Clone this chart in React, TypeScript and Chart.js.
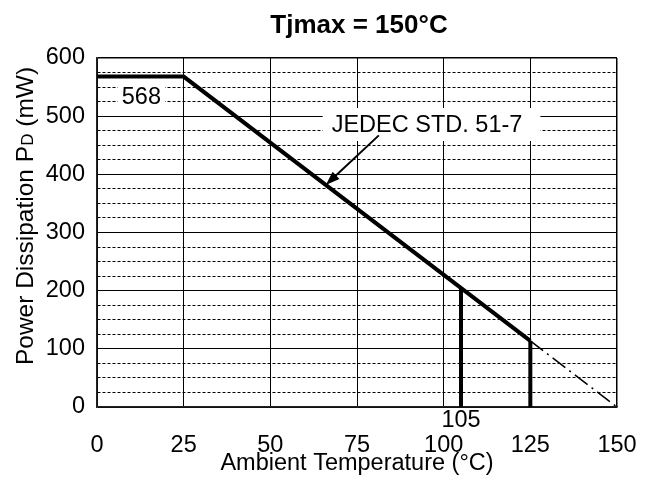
import React, { useEffect, useRef } from 'react';
import { Chart, registerables } from 'chart.js';

Chart.register(...registerables);

// ---------- text ----------
const TITLE = 'Tjmax = 150°C';
const X_TITLE = 'Ambient Temperature (°C)';
const Y_TITLE_MAIN = 'Power Dissipation P';
const Y_TITLE_SUB = 'D';
const Y_TITLE_UNIT = ' (mW)';
const PLATEAU_LABEL = '568';
const JEDEC_LABEL = 'JEDEC STD. 51-7';
const MARK_LABEL = '105';

// ---------- data ----------
const deratingX = [0, 25, 125];
const deratingY = [568, 568, 113.6];
const extensionX = [125, 150];
const extensionY = [113.6, 0];
const bar105X = [105, 105];
const bar105Y = [0, 204.5];
const bar125X = [125, 125];
const bar125Y = [0, 113.6];

// axis ranges / ticks
const X_MIN = 0;
const X_MAX = 150;
const X_STEP = 25;
const Y_MIN = 0;
const Y_MAX = 600;
const Y_MAJOR = 100;
const Y_MINOR = 25;

// annotation anchors (data coordinates)
const PLATEAU_AT = { x: 12.8, y: 534.5 };
const JEDEC_AT = { x: 95.2, y: 486.5 };
const ARROW_FROM = { x: 81.3, y: 467 };
const ARROW_TO = { x: 66, y: 381.7 };
const MARK_AT = 105;

const FAMILY = '"Liberation Sans", Arial, Helvetica, sans-serif';
const font = (size: number, bold = false) => `${bold ? 'bold ' : ''}${size}px ${FAMILY}`;

const zip = (xs: number[], ys: number[]) => xs.map((x, i) => ({ x, y: ys[i] }));

const overlayPlugin = {
  id: 'overlay',
  beforeDatasetsDraw(chart: any) {
    const { ctx, scales } = chart;
    const xs = scales.x;
    const ys = scales.y;
    ctx.save();
    ctx.font = font(23.5);
    ctx.textBaseline = 'middle';
    ctx.textAlign = 'center';
    {
      const px = xs.getPixelForValue(PLATEAU_AT.x);
      const py = ys.getPixelForValue(PLATEAU_AT.y);
      const w = ctx.measureText(PLATEAU_LABEL).width;
      ctx.fillStyle = '#fff';
      ctx.fillRect(px - w / 2 - 4, py - 15, w + 8, 29);
      ctx.fillStyle = '#000';
      ctx.fillText(PLATEAU_LABEL, px, py + 1);
    }
    {
      const px = xs.getPixelForValue(JEDEC_AT.x);
      const py = ys.getPixelForValue(JEDEC_AT.y);
      const w = ctx.measureText(JEDEC_LABEL).width;
      ctx.fillStyle = '#fff';
      ctx.fillRect(px - w / 2 - 9, py - 16, w + 27, 33);
      ctx.fillStyle = '#000';
      ctx.fillText(JEDEC_LABEL, px, py + 1);
    }
    ctx.restore();
  },
  afterDatasetsDraw(chart: any) {
    const { ctx, scales } = chart;
    const xs = scales.x;
    const ys = scales.y;
    const x1 = xs.getPixelForValue(ARROW_FROM.x);
    const y1 = ys.getPixelForValue(ARROW_FROM.y);
    const x2 = xs.getPixelForValue(ARROW_TO.x);
    const y2 = ys.getPixelForValue(ARROW_TO.y);
    const ang = Math.atan2(y2 - y1, x2 - x1);
    const head = 14;
    const half = 5;
    ctx.save();
    ctx.strokeStyle = '#000';
    ctx.fillStyle = '#000';
    ctx.lineWidth = 2;
    ctx.beginPath();
    ctx.moveTo(x1, y1);
    ctx.lineTo(x2 - Math.cos(ang) * (head - 2), y2 - Math.sin(ang) * (head - 2));
    ctx.stroke();
    ctx.beginPath();
    ctx.moveTo(x2, y2);
    ctx.lineTo(
      x2 - Math.cos(ang) * head + Math.sin(ang) * half,
      y2 - Math.sin(ang) * head - Math.cos(ang) * half
    );
    ctx.lineTo(
      x2 - Math.cos(ang) * head - Math.sin(ang) * half,
      y2 - Math.sin(ang) * head + Math.cos(ang) * half
    );
    ctx.closePath();
    ctx.fill();
    ctx.restore();
  },
  afterDraw(chart: any) {
    const { ctx, chartArea, scales } = chart;
    const xs = scales.x;
    ctx.save();
    ctx.fillStyle = '#000';
    ctx.font = font(26, true);
    ctx.textAlign = 'center';
    ctx.textBaseline = 'alphabetic';
    ctx.fillText(TITLE, (chartArea.left + chartArea.right) / 2 + 2, 33);
    ctx.font = font(23.5);
    ctx.textBaseline = 'middle';
    ctx.fillText(MARK_LABEL, xs.getPixelForValue(MARK_AT), 421);
    const mainF = font(24.5);
    const subF = font(17);
    ctx.font = mainF;
    const w1 = ctx.measureText(Y_TITLE_MAIN).width;
    const w3 = ctx.measureText(Y_TITLE_UNIT).width;
    ctx.font = subF;
    const w2 = ctx.measureText(Y_TITLE_SUB).width;
    const total = w1 + w2 + w3;
    ctx.translate(33, 216);
    ctx.rotate(-Math.PI / 2);
    ctx.textAlign = 'left';
    ctx.textBaseline = 'alphabetic';
    let cx = -total / 2;
    ctx.font = mainF;
    ctx.fillText(Y_TITLE_MAIN, cx, 0);
    cx += w1;
    ctx.font = subF;
    ctx.fillText(Y_TITLE_SUB, cx, 0);
    cx += w2;
    ctx.font = mainF;
    ctx.fillText(Y_TITLE_UNIT, cx, 0);
    ctx.restore();
  },
};

export default function App() {
  const ref = useRef<HTMLCanvasElement | null>(null);

  useEffect(() => {
    if (!ref.current) return;
    const chart = new Chart(ref.current, {
      type: 'line',
      data: {
        datasets: [
          {
            data: zip(deratingX, deratingY),
            borderColor: '#000',
            borderWidth: 4,
            pointRadius: 0,
            borderJoinStyle: 'miter',
            fill: false,
          },
          {
            data: zip(extensionX, extensionY),
            borderColor: '#000',
            borderWidth: 1.5,
            borderDash: [16, 5, 2, 5],
            pointRadius: 0,
            fill: false,
          },
          {
            data: zip(bar105X, bar105Y),
            borderColor: '#000',
            borderWidth: 4,
            pointRadius: 0,
            fill: false,
          },
          {
            data: zip(bar125X, bar125Y),
            borderColor: '#000',
            borderWidth: 4,
            pointRadius: 0,
            fill: false,
          },
        ],
      },
      options: {
        animation: false,
        responsive: false,
        events: [],
        layout: { padding: { top: 58, right: 34, left: 0, bottom: 0 } },
        plugins: {
          legend: { display: false },
          tooltip: { enabled: false },
          title: { display: false },
        },
        scales: {
          x: {
            type: 'linear',
            min: X_MIN,
            max: X_MAX,
            afterFit: (s: any) => {
              s.height = 72;
              s.paddingLeft = 0;
              s.paddingRight = 0;
            },
            ticks: {
              stepSize: X_STEP,
              autoSkip: false,
              maxRotation: 0,
              padding: 24,
              color: '#000',
              font: { family: FAMILY, size: 23.5 },
            },
            grid: {
              drawTicks: false,
              color: '#000',
              lineWidth: (c: any) => (c.tick && c.tick.value === X_MAX ? 1.5 : 1),
            },
            border: { display: true, color: '#222', width: 1.5 },
            title: {
              display: true,
              text: X_TITLE,
              color: '#000',
              font: { family: FAMILY, size: 23.5 },
              padding: { top: 0, bottom: 1 },
            },
          },
          y: {
            type: 'linear',
            min: Y_MIN,
            max: Y_MAX,
            afterFit: (s: any) => {
              s.width = 97;
              s.paddingTop = 0;
              s.paddingBottom = 0;
            },
            ticks: {
              stepSize: Y_MINOR,
              autoSkip: false,
              padding: 12,
              color: '#000',
              font: { family: FAMILY, size: 23.5 },
              callback: (v: any) => (Number(v) % Y_MAJOR === 0 ? String(v) : ''),
            },
            grid: {
              drawTicks: false,
              color: '#000',
              lineWidth: (c: any) => (c.tick && c.tick.value === Y_MAX ? 1.5 : 1),
            },
            border: {
              display: true,
              color: '#222',
              width: 1.5,
              dash: (c: any) => (c.tick && c.tick.value % Y_MAJOR !== 0 ? [3, 2] : []),
            },
          },
        },
      } as any,
      plugins: [overlayPlugin],
    });
    return () => chart.destroy();
  }, []);

  return (
    <div style={{ position: 'absolute', left: 0, top: 0, width: 651, height: 479, background: '#fff' }}>
      <canvas ref={ref} width={651} height={479} style={{ display: 'block' }} />
    </div>
  );
}
